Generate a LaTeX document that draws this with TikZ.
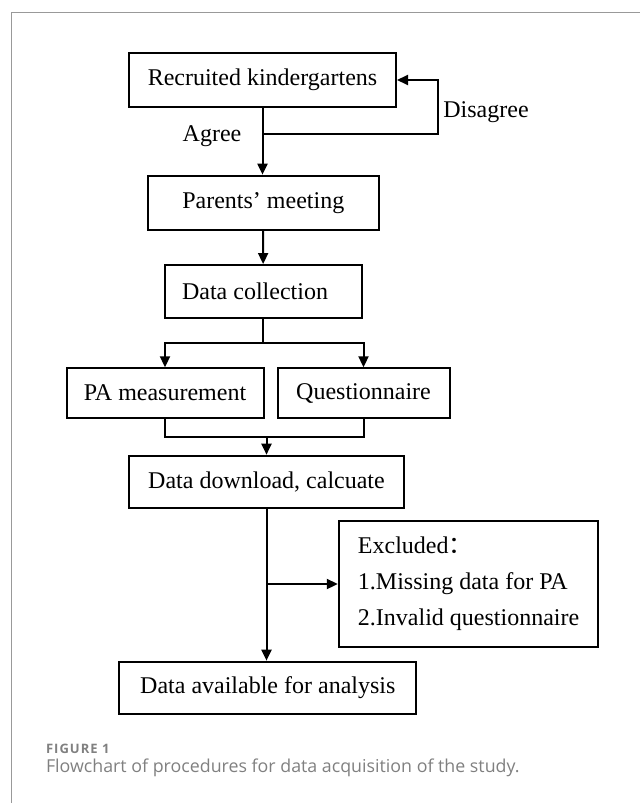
\documentclass[tikz,border=0pt]{standalone}
\usepackage{fontspec}
\setmainfont{Liberation Serif}
\newfontfamily\capfont{Open Sans}
\newfontfamily\capfontwide{Open Sans}[LetterSpace=8]
\newfontfamily\cjk{Noto Sans CJK SC}
\usetikzlibrary{arrows.meta}
\tikzset{
  stage/.style={
    rectangle,
    draw=black, line width=2pt,
    inner sep=0pt,
    text centered,
    font=\fontsize{24}{36}\selectfont},
  note/.style={font=\fontsize{24}{36}\selectfont, inner sep=0pt},
  branch/.style={coordinate},
}
\tikzset{>={Triangle[length=11pt,width=10pt]}}

\begin{document}
\begin{tikzpicture}[x=1pt,y=-1pt,line width=2pt]
\useasboundingbox (0,0) rectangle (640,803);
\draw[line width=1pt,black!40] (11.5,803) -- (11.5,12.3) -- (640,12.3);

\node[stage, minimum width=267pt, minimum height=54.6pt] at (262.5,80) (recruit) {Recruited kindergartens};
\node[stage, minimum width=231pt, minimum height=54.3pt] at (263.3,202.8) (parents) {Parents' meeting};
\node[stage, minimum width=197pt, minimum height=53.3pt] at (263,291.7) (collect) {Data collection\hspace*{16pt}};
\node[stage, minimum width=197pt, minimum height=49.4pt] at (165,393) (pa) {PA measurement};
\node[stage, minimum width=172pt, minimum height=49.4pt] at (363.5,393) (quest) {Questionnaire};
\node[stage, minimum width=275pt, minimum height=52.6pt] at (266.5,482) (download) {Data download, calcuate};
\node[stage, minimum width=259.6pt, minimum height=126.6pt, align=left] at (468.6,584) (excl)
  {Excluded{\cjk ：}\\1.Missing data for PA\\2.Invalid questionnaire};
\node[stage, minimum width=297pt, minimum height=52.3pt] at (267.8,687.8) (avail) {Data available for analysis};

\node[note] at (212,136) (agree) {Agree};
\node[note] at (486,111.7) (disagree) {Disagree};

\node[branch] at (263.3,134) (back) {};
\node[branch] at (437.6,134) (backturn) {};
\node[branch] at (263,343.3) (split) {};
\node[branch] at (266.5,436.7) (merge) {};
\node[branch] at (266.5,584) (drop) {};

\draw[->] (recruit.south) -- (recruit.south |- parents.north);
\draw[->] (back) -- (backturn) |- (recruit.east);
\draw[->] (parents) -- (collect);

\draw (collect) -- (split);
\draw[->] (split) -| (pa.north);
\draw[->] (split) -| (quest.north);

\draw (pa.south) |- (merge) -| (quest.south);
\draw[->] (merge) -- (download.north);

\draw[->] (download.south) -- (download.south |- avail.north);
\draw[->] (drop) -- (excl.west);

% caption
\node[anchor=base west, inner sep=0pt, text=black!50, font=\capfontwide\bfseries\fontsize{13}{15}\selectfont] at (45,753.3) (figno) {FIGURE 1};
\node[anchor=base west, inner sep=0pt, text=black!50, font=\capfont\fontsize{17.8}{20}\selectfont] at (45,772.3) (figtext) {Flowchart of procedures for data acquisition of the study.};
\end{tikzpicture}
\end{document}
